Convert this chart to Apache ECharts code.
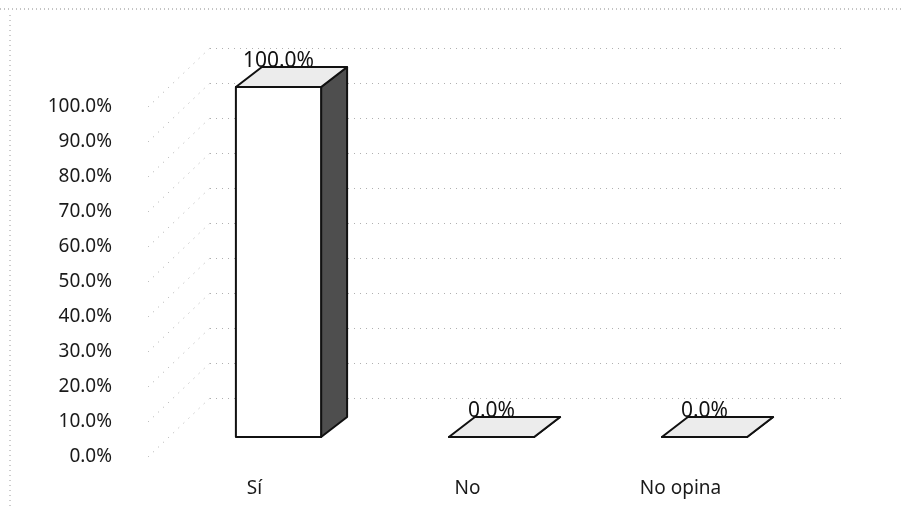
<!DOCTYPE html>
<html>
<head>
<meta charset="utf-8">
<script src="https://cdn.jsdelivr.net/npm/echarts@6/dist/echarts.min.js"></script>
<style>
  html, body { margin: 0; padding: 0; background: #fff; }
  #chart { width: 902px; height: 510px; }
</style>
</head>
<body>
<div id="chart"></div>
<script>
const categories = ['Sí', 'No', 'No opina']
const values = [1.0, 0.0, 0.0]
const wallTicks = [0, 0.1, 0.2, 0.3, 0.4, 0.5, 0.6, 0.7, 0.8, 0.9, 1.0]

// 3D look: front face shifted from the axis, then depth to the back
const FRONT = [24, -20]
const DEPTH = [26, -20]
const WALL = [62, -59]

const pct = (v) => (v * 100).toFixed(1) + '%'
const font = 'Noto Sans'

const chart = echarts.init(document.getElementById('chart'), null, { renderer: 'canvas' })

chart.setOption({
  backgroundColor: '#fff',
  animation: false,
  textStyle: { fontFamily: font },
  grid: [
    { left: 148, width: 639, top: 107, height: 350 },
    { left: 210, right: 60, top: 48, height: 350 },
  ],
  xAxis: [
    {
      type: 'category',
      data: categories,
      gridIndex: 0,
      axisLine: { show: false },
      axisTick: { show: false },
      axisLabel: { color: '#1a1a1a', fontSize: 19, margin: 22, fontFamily: font },
    },
    {
      type: 'category',
      data: categories,
      gridIndex: 1,
      show: false,
    },
  ],
  yAxis: [
    {
      type: 'value',
      gridIndex: 0,
      min: 0,
      max: 1,
      interval: 0.1,
      axisLine: { show: false },
      axisTick: { show: false },
      splitLine: { show: false },
      axisLabel: { color: '#1a1a1a', fontSize: 19, margin: 36, formatter: pct, fontFamily: font },
    },
    {
      type: 'value',
      gridIndex: 1,
      min: 0,
      max: 1,
      interval: 0.1,
      axisLine: { show: false },
      axisTick: { show: false },
      axisLabel: { show: false },
      splitLine: { show: true, lineStyle: { color: '#b0b0b0', type: [1, 5], width: 1 } },
    },
  ],
  graphic: [
    { type: 'line', shape: { x1: 0, y1: 9, x2: 902, y2: 9 }, style: { stroke: '#888', lineWidth: 1, lineDash: [1, 3] } },
    { type: 'line', shape: { x1: 10, y1: 15, x2: 10, y2: 510 }, style: { stroke: '#999', lineWidth: 1, lineDash: [1, 4] } },
  ],
  series: [
    {
      // left wall grid lines
      type: 'custom',
      xAxisIndex: 0,
      yAxisIndex: 0,
      data: wallTicks.map((v) => [0, v]),
      silent: true,
      z: 1,
      renderItem: (params, api) => {
        const y = api.coord([0, api.value(1)])[1]
        const x = params.coordSys.x
        return {
          type: 'line',
          shape: { x1: x, y1: y, x2: x + WALL[0], y2: y + WALL[1] },
          style: { stroke: '#aaa', lineWidth: 1, lineDash: [1, 6] },
        }
      },
    },
    {
      type: 'custom',
      xAxisIndex: 0,
      yAxisIndex: 0,
      data: values.map((v, i) => [i, v]),
      z: 5,
      renderItem: (params, api) => {
        const top = api.coord([api.value(0), api.value(1)])
        const base = api.coord([api.value(0), 0])
        const bw = api.size([1, 0])[0] * 0.4
        const x0 = top[0] + FRONT[0] - bw / 2
        const x1 = x0 + bw
        const yT = top[1] + FRONT[1]
        const yB = base[1] + FRONT[1]
        const [dx, dy] = DEPTH
        const line = { stroke: '#111', lineWidth: 2, lineJoin: 'round' }
        return {
          type: 'group',
          children: [
            {
              type: 'polygon',
              shape: { points: [[x1, yT], [x1 + dx, yT + dy], [x1 + dx, yB + dy], [x1, yB]] },
              style: { fill: '#4e4e4e', ...line },
            },
            {
              type: 'polygon',
              shape: { points: [[x0, yT], [x1, yT], [x1 + dx, yT + dy], [x0 + dx, yT + dy]] },
              style: { fill: '#ececec', ...line },
            },
            {
              type: 'rect',
              shape: { x: x0, y: yT, width: bw, height: yB - yT },
              style: { fill: '#fff', ...line },
            },
            {
              type: 'text',
              style: {
                x: (x0 + x1) / 2,
                y: yT + dy - 6,
                text: pct(api.value(1)),
                fill: '#111',
                font: '21px ' + font,
                align: 'center',
                verticalAlign: 'middle',
              },
            },
          ],
        }
      },
    },
  ],
})
</script>
</body>
</html>
